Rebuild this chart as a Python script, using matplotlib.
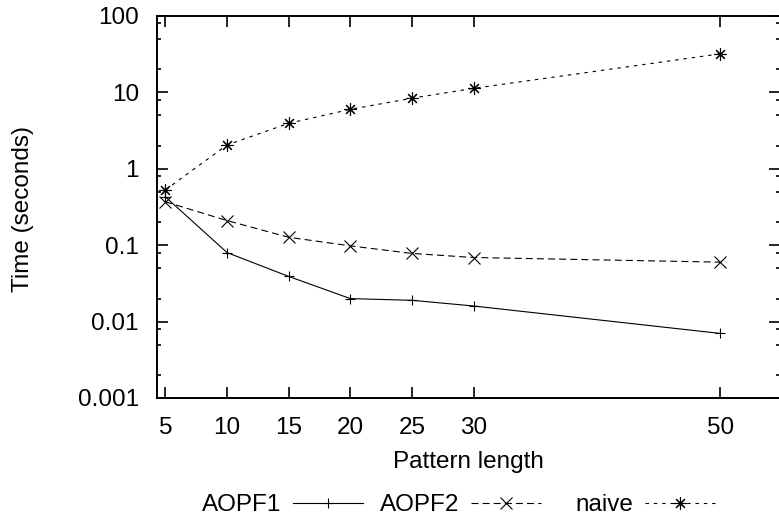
import matplotlib.pyplot as plt
from matplotlib.ticker import FixedLocator, NullFormatter, NullLocator

plt.rcParams["font.family"] = ["Liberation Sans", "DejaVu Sans"]
plt.rcParams["lines.scale_dashes"] = False

pattern_length = [5, 10, 15, 20, 25, 30, 50]
aopf1_time = [0.43, 0.08, 0.039, 0.02, 0.019, 0.016, 0.007]
aopf2_time = [0.37, 0.21, 0.127, 0.098, 0.078, 0.069, 0.060]
naive_time = [0.53, 2.05, 3.94, 6.0, 8.4, 11.3, 32.0]

y_major = [0.001, 0.01, 0.1, 1, 10, 100]
y_major_labels = ["0.001", "0.01", "0.1", "1", "10", "100"]
y_minor = [m * 10.0 ** k for k in range(-3, 2) for m in (2, 5, 8)]

FS = 17.5
W, H = 779, 520

fig = plt.figure(figsize=(W / 100, H / 100), dpi=100)

# axes box in pixels: left 156.5, right 780, top 16, bottom 398
left, right, top, bottom = 156.5, 780.0, 16.0, 398.0
ax = fig.add_axes([left / W, 1 - bottom / H, (right - left) / W, (bottom - top) / H])

h1, = ax.plot(pattern_length, aopf1_time, color="black", lw=0.8,
              marker="+", ms=7.5, mew=0.8, label="AOPF1")
h2, = ax.plot(pattern_length, aopf2_time, color="black", lw=0.8,
              ls=(0, (5, 3)), marker="x", ms=8.5, mew=0.8, label="AOPF2")
h3, = ax.plot(pattern_length, naive_time, color="black", lw=0.8,
              ls=(0, (2.5, 3.5)), marker=(8, 2, 0), ms=9, mew=0.8, label="naive")

ax.set_yscale("log")
ax.set_ylim(0.001, 100)
ax.set_xlim(4.278, 54.84)

ax.set_xticks(pattern_length)
ax.set_xticklabels([str(v) for v in pattern_length])
ax.xaxis.set_minor_locator(NullLocator())
ax.yaxis.set_major_locator(FixedLocator(y_major))
ax.set_yticklabels(y_major_labels)
ax.yaxis.set_minor_locator(FixedLocator(y_minor))
ax.yaxis.set_minor_formatter(NullFormatter())

ax.tick_params(which="both", direction="in", top=True, right=True,
               width=1.2, labelsize=FS, colors="black")
ax.tick_params(which="major", length=7.7)
ax.tick_params(which="minor", length=3.1)
ax.tick_params(axis="x", pad=13.7)
ax.tick_params(axis="y", pad=12.6)

for side in ("left", "top", "bottom"):
    ax.spines[side].set_linewidth(1.4)
ax.spines["right"].set_visible(False)

ax.set_xlabel("Pattern length", fontsize=FS)
ax.xaxis.set_label_coords(0.5, -(462 - bottom) / (bottom - top))
ax.xaxis.label.set_verticalalignment("center")

ax.set_ylabel("Time (seconds)", fontsize=FS)
ax.yaxis.set_label_coords((23 - left) / (right - left), (bottom - 209) / (bottom - top))
ax.yaxis.label.set_verticalalignment("center")

# gnuplot-style key: text then sample, one entry per column
for handle, x_end in ((h1, 363), (h2, 541), (h3, 715)):
    fig.legend([handle], [handle.get_label()], loc="center right",
               bbox_to_anchor=(x_end / W, 1 - 505 / H), frameon=False,
               markerfirst=False, handlelength=2.9, handletextpad=0.45,
               borderpad=0, borderaxespad=0, fontsize=FS, numpoints=1)

fig.savefig("out.png", dpi=100)
plt.close(fig)
